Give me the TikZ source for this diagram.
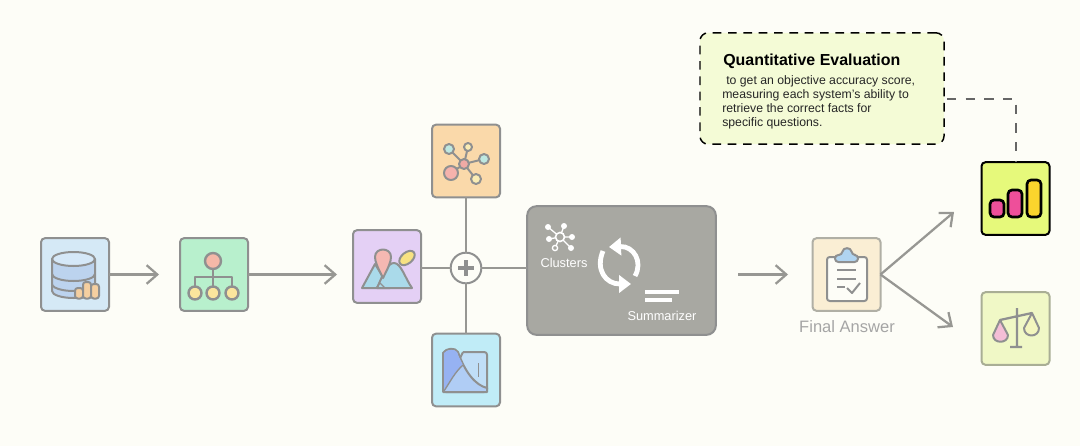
\documentclass[tikz,border=0pt]{standalone}
\usepackage{fontspec}
\setmainfont{Liberation Sans}
\usetikzlibrary{arrows.meta}
\definecolor{bgc}{HTML}{FDFDF7}
\definecolor{linec}{HTML}{979793}
\definecolor{iconl}{HTML}{8F9090}
\definecolor{greyb}{HTML}{A8A8A2}
\definecolor{scaleb}{HTML}{A9AE95}
\definecolor{finalb}{HTML}{B0AFA5}
\definecolor{distdark}{RGB}{150,178,242}
\tikzset{
  iconbox/.style={draw=#1,line width=1.5pt,rounded corners=3pt,minimum width=51pt,minimum height=54.5pt,inner sep=0pt,outer sep=0pt},
  iconbox/.default=iconl,
  conn/.style={draw=linec,line width=1.7pt},
  arr/.style={conn,-{Straight Barb[length=8pt,width=14pt,line width=1.7pt]}},
  ico/.style={draw=iconl,line width=1.5pt,line join=round},
  wtext/.style={text=white,font=\fontsize{9.6pt}{11pt}\selectfont,inner sep=0pt},
  whiteline/.style={draw=white,line width=2.5pt},
  refresh/.style={draw=white,line width=3.6pt,-{Triangle[length=9pt,width=13pt]}},
}
\begin{document}
\begin{tikzpicture}[x=0.75pt,y=-0.75pt]
\useasboundingbox (0,0) rectangle (1080,446);
\fill[bgc] (0,0) rectangle (1080,446);

% boxes
\node[iconbox,fill={rgb,255:red,213;green,233;blue,246}] (db) at (75,274.5) {};
\node[iconbox,fill={rgb,255:red,184;green,240;blue,205}] (tree) at (214,274.5) {};
\node[iconbox,fill={rgb,255:red,228;green,208;blue,245}] (mtn) at (387,266.5) {};
\node[iconbox,fill={rgb,255:red,250;green,217;blue,170}] (graph) at (466,161) {};
\node[iconbox,fill={rgb,255:red,192;green,236;blue,247}] (dist) at (466,370) {};
\node[draw=iconl,fill=greyb,line width=1.5pt,rounded corners=7pt,minimum width=141.5pt,minimum height=96.5pt,inner sep=0pt,outer sep=0pt] (proc) at (621.5,270.5) {};
\node[iconbox=finalb,fill={rgb,255:red,250;green,238;blue,212}] (final) at (846.5,274.5) {};
\node[iconbox=black,fill={rgb,255:red,230;green,249;blue,123}] (quant) at (1015.5,198.5) {};
\node[iconbox=scaleb,fill={rgb,255:red,240;green,248;blue,198}] (scale) at (1015.5,328.5) {};
\node[circle,draw=iconl,fill=bgc,line width=1.5pt,minimum size=23pt,inner sep=0pt,outer sep=0pt] (plus) at (466,268) {};
\node[draw=black,dash pattern=on 6.5pt off 5pt,fill={rgb,255:red,244;green,251;blue,214},line width=1.1pt,rounded corners=6pt,minimum width=183pt,minimum height=83.5pt,inner sep=0pt,outer sep=0pt] (note) at (822,88.5) {};

% connector ends
\coordinate (a1) at (159,274.5);
\coordinate (a2) at (337,274.5);
\coordinate (s3) at (738,274.5);
\coordinate (a3) at (788,274.5);
\coordinate (a4) at (954,212);
\coordinate (a5) at (953,327);
\coordinate (n1) at (947,99);
\coordinate (n2) at (1016,99);

% connectors
\draw[arr] (db.east) -- (a1);
\draw[arr] (tree.east) -- (a2);
\draw[arr] (s3) -- (a3);
\draw[arr] (final.east) -- (a4);
\draw[arr] (final.east) -- (a5);
\draw[conn] (graph.south) -- (plus.north);
\draw[conn] (dist.north) -- (plus.south);
\draw[conn] (mtn.east |- plus) -- (plus.west);
\draw[conn] (plus.east) -- (proc.west |- plus);
\draw[black!60,line width=0.9pt,dash pattern=on 7pt off 7pt] (n1) -- (n2) -- (quant.north -| n2);

% plus sign
\draw[iconl,line width=2.6pt] (458,268) -- (474,268) (466,260) -- (466,276);

% database icon
\draw[ico,fill={rgb,255:red,188;green,211;blue,238}] (52,259) -- (52,291) arc[start angle=180,end angle=360,x radius=21.5,y radius=-7] -- (95,259) -- cycle;
\draw[ico] (52,274) arc[start angle=180,end angle=360,x radius=21.5,y radius=-7];
\draw[ico] (52,284) arc[start angle=180,end angle=290,x radius=21.5,y radius=-7];
\draw[ico,fill={rgb,255:red,213;green,232;blue,248}] (73.5,259) ellipse[x radius=21.5,y radius=7];
\draw[ico,fill={rgb,255:red,245;green,207;blue,160},rounded corners=2pt] (75,298.5) rectangle (83,288);
\draw[ico,fill={rgb,255:red,245;green,207;blue,160},rounded corners=2pt] (83,298.5) rectangle (91,282);
\draw[ico,fill={rgb,255:red,245;green,207;blue,160},rounded corners=2pt] (91,298.5) rectangle (99,284);

% tree icon
\draw[ico,line width=1.2pt] (213,261) -- (213,293) (195,293) -- (195,277) -- (232,277) -- (232,293);
\draw[ico,line width=1.8pt,fill={rgb,255:red,245;green,184;blue,168}] (213,261) circle[radius=8];
\foreach \cx in {195,213,232}{
  \draw[ico,line width=1.8pt,fill={rgb,255:red,251;green,229;blue,157}] (\cx,293) circle[radius=6.5];
}

% mountains icon
\draw[ico,fill={rgb,255:red,170;green,218;blue,234}] (362,288) -- (375,264) -- (390,288) -- cycle;
\draw[ico,fill={rgb,255:red,170;green,218;blue,234}] (377,288) .. controls (384,272) and (388,263) .. (394,263) .. controls (401,263) and (405,278) .. (412,288) -- cycle;
\draw[ico,line width=0.8pt] (376,288) -- (380,283) -- (385,288);
\draw[ico,fill={rgb,255:red,245;green,184;blue,178}] (383,278) .. controls (378,268) and (375,262) .. (375,257) .. controls (375,247) and (391,247) .. (391,257) .. controls (391,262) and (388,268) .. (383,278) -- cycle;
\draw[ico,fill={rgb,255:red,247;green,226;blue,130},rotate around={40:(407,258)}] (407,258) ellipse[x radius=9,y radius=5.5];

% graph icon
\draw[ico] (464,164) -- (451,173) (464,164) -- (449,149) (464,164) -- (468,147) (464,164) -- (484,159) (464,164) -- (476,179);
\draw[ico,fill={rgb,255:red,245;green,178;blue,172}] (451,173) circle[radius=7];
\draw[ico,fill={rgb,255:red,240;green,170;blue,165}] (464,164) circle[radius=5];
\draw[ico,fill={rgb,255:red,190;green,232;blue,225}] (449,149) circle[radius=5];
\draw[ico,fill={rgb,255:red,250;green,236;blue,180}] (468,147) circle[radius=4];
\draw[ico,fill={rgb,255:red,190;green,232;blue,225}] (484,159) circle[radius=5];
\draw[ico,fill={rgb,255:red,250;green,236;blue,180}] (476,179) circle[radius=5];

% distribution icon
\draw[ico,fill={rgb,255:red,192;green,222;blue,247},rounded corners=2pt] (463,352) -- (487,352) -- (487,392) -- (443,392) -- (463,352);
\draw[ico,fill={rgb,255:red,176;green,205;blue,245},line join=round] (443,392) -- (443,353) .. controls (446,348) and (455,347) .. (458,352) .. controls (465,372) and (475,385) .. (487,388) -- (487,392) -- cycle;
\fill[distdark] (444,390) -- (444,353) .. controls (447,349) and (455,349) .. (457,352) .. controls (459,358) and (461,361) .. (463,365) .. controls (455,372) and (450,382) .. (444,390) -- cycle;
\draw[ico,line width=1pt] (444,391) .. controls (450,382) and (455,372) .. (463,365);
\draw[ico,line width=1.1pt] (478.5,363) -- (478.5,377);
\draw[ico] (443,392) -- (487,392);

% process box contents
\draw[white,line width=1pt] (560,237) -- (548,227) (560,237) -- (564,226) (560,237) -- (572,237) (560,237) -- (571,248) (560,237) -- (555,248) (560,237) -- (549,239);
\draw[white,line width=1.2pt,fill=greyb] (560,237) circle[radius=4.5];
\foreach \px/\py in {548/227,564/226,572/237,571/248,549/239}{
  \fill[white] (\px,\py) circle[radius=3];
}
\draw[white,line width=1pt,fill=greyb] (555,248) circle[radius=2.6];
\node[wtext] (clusters) at (564,263) {Clusters};
\draw[refresh] (635,276) .. controls (643,262) and (634,246) .. (609,247);
\draw[refresh] (603,251) .. controls (595,270) and (606,284) .. (631,284);
\draw[whiteline] (645,292) -- (679,292);
\draw[whiteline] (645,300) -- (672,300);
\node[wtext] (summ) at (662,316) {Summarizer};

% final answer icon
\draw[ico,fill=bgc,rounded corners=2pt] (827,257) rectangle (867,301);
\draw[ico,fill={rgb,255:red,176;green,212;blue,240},rounded corners=2.5pt] (835,262) -- (835,255) -- (842,255) .. controls (843,247) and (851,247) .. (852,255) -- (858,255) -- (858,262) -- cycle;
\draw[ico] (837,270) -- (856,270) (837,279) -- (856,279) (837,287) -- (845,287);
\draw[ico] (847,288) -- (852,293) -- (860,283);
\node[text={rgb,255:red,165;green,165;blue,165},font=\fontsize{12.4pt}{14pt}\selectfont,inner sep=0pt] (fa) at (847,327) {Final Answer};

% bars icon
\draw[black,line width=2pt,fill={rgb,255:red,238;green,79;blue,154},rounded corners=3pt] (990,200) rectangle (1004,217);
\draw[black,line width=2pt,fill={rgb,255:red,238;green,79;blue,154},rounded corners=3pt] (1008,190) rectangle (1022,217);
\draw[black,line width=2pt,fill={rgb,255:red,251;green,213;blue,45},rounded corners=3pt] (1027,180) rectangle (1041,217);

% scale icon
\draw[ico,line width=1.7pt] (1017,308) -- (1017,347) (1010,347) -- (1022,347) (1000,320) -- (1032,313);
\draw[ico,fill={rgb,255:red,244;green,190;blue,214}] (1000,320) -- (993,335) .. controls (993,344) and (1008,344) .. (1008,335) -- cycle;
\draw[ico,fill={rgb,255:red,243;green,246;blue,190}] (1032,313) -- (1024,328) .. controls (1024,338) and (1039,338) .. (1039,328) -- cycle;

% note text
\node[anchor=base west,inner sep=0pt,font=\fontsize{11.95pt}{14pt}\bfseries\selectfont,text=black] (ntitle) at (723,65) {Quantitative Evaluation};
\node[anchor=north west,inner sep=0pt,align=left,font=\fontsize{9.2pt}{10.5pt}\selectfont,text=black!85] (nbody) at (722,75.5) {\hspace{3pt}to get an objective accuracy score,\\measuring each system's ability to\\retrieve the correct facts for\\specific questions.};
\end{tikzpicture}
\end{document}
